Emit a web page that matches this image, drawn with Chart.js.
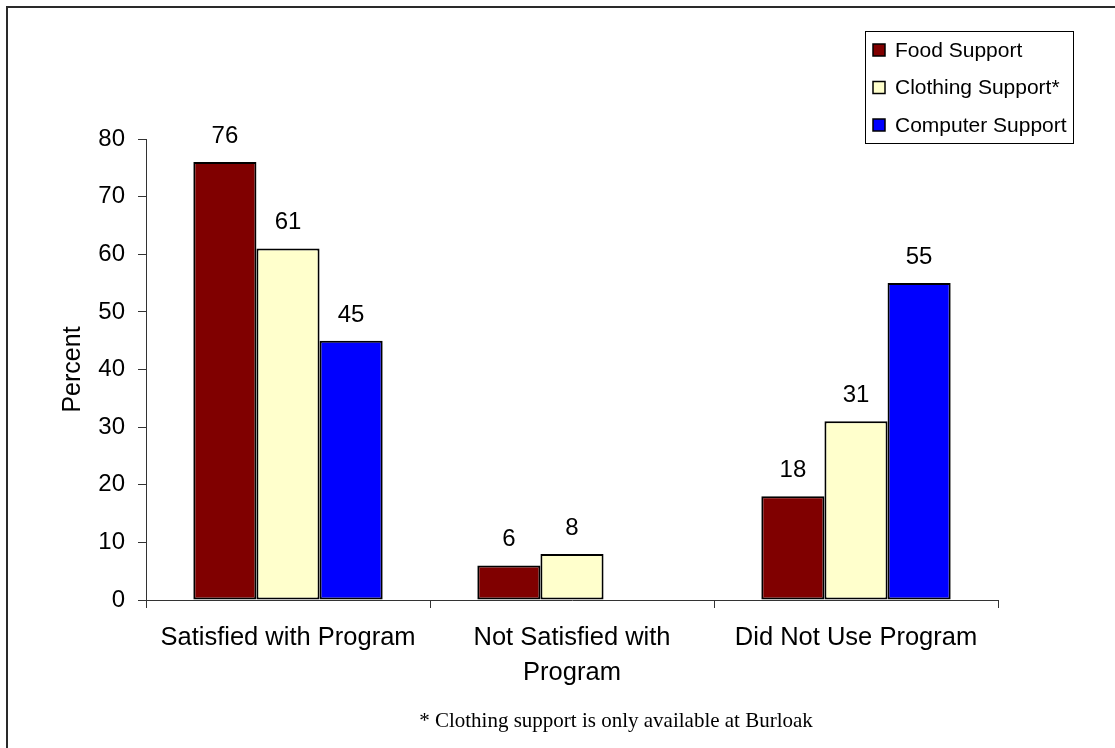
<!DOCTYPE html>
<html>
<head>
<meta charset="utf-8">
<title>Support program satisfaction</title>
<script src="https://cdn.jsdelivr.net/npm/chart.js@4"></script>
<style>
  html, body { margin: 0; padding: 0; background: #fff; }
  #wrap { position: relative; width: 1115px; height: 748px; }
  canvas { display: block; }
</style>
</head>
<body>
<div id="wrap"><canvas id="chart" width="1115" height="748"></canvas></div>
<script>
// Survey response categories (x axis)
const categories = [
  'Satisfied with Program',
  ['Not Satisfied with', 'Program'],
  'Did Not Use Program'
];

// Percent of respondents per program
const foodSupport = [76, 6, 18];
const clothingSupport = [61, 8, 31];
const computerSupport = [45, null, 55];

const seriesNames = ['Food Support', 'Clothing Support*', 'Computer Support'];
const yTicks = [0, 10, 20, 30, 40, 50, 60, 70, 80];
const footnote = '* Clothing support is only available at Burloak';

const SANS = '"Liberation Sans", Arial, sans-serif';
const SERIF = '"Liberation Serif", "Times New Roman", serif';

// Value labels above every bar
const valueLabels = {
  id: 'valueLabels',
  afterDatasetsDraw(chart) {
    const ctx = chart.ctx;
    ctx.save();
    ctx.font = '24px ' + SANS;
    ctx.fillStyle = '#000';
    ctx.textAlign = 'center';
    ctx.textBaseline = 'alphabetic';
    chart.data.datasets.forEach((ds, i) => {
      const meta = chart.getDatasetMeta(i);
      meta.data.forEach((bar, j) => {
        const v = ds.data[j];
        if (v === null || v === undefined) return;
        ctx.fillText(String(v), bar.x, bar.y - 19);
      });
    });
    ctx.restore();
  }
};

// Boxed legend, outer frame and footnote
const decorations = {
  id: 'decorations',
  afterDraw(chart) {
    const ctx = chart.ctx;
    ctx.save();

    // frame lines along the top and left edges
    ctx.strokeStyle = '#2a2a2a';
    ctx.lineWidth = 2;
    ctx.beginPath();
    ctx.moveTo(7, 748);
    ctx.lineTo(7, 7);
    ctx.lineTo(1115, 7);
    ctx.stroke();

    // legend box
    ctx.lineWidth = 1;
    ctx.strokeStyle = '#000';
    ctx.strokeRect(865.5, 31.5, 208, 112);
    ctx.font = '21px ' + SANS;
    ctx.textAlign = 'left';
    ctx.textBaseline = 'middle';
    chart.data.datasets.forEach((ds, i) => {
      const cy = 50 + i * 37.5;
      ctx.fillStyle = ds.backgroundColor;
      ctx.fillRect(873, cy - 6, 12, 12);
      ctx.strokeStyle = '#000';
      ctx.lineWidth = 1.5;
      ctx.strokeRect(873, cy - 6, 12, 12);
      ctx.fillStyle = '#000';
      ctx.fillText(ds.label, 895, cy + 1);
    });

    // footnote
    ctx.font = '21px ' + SERIF;
    ctx.textAlign = 'center';
    ctx.textBaseline = 'alphabetic';
    ctx.fillStyle = '#000';
    ctx.fillText(footnote, 616, 727);

    ctx.restore();
  }
};

const barStyle = { borderColor: '#000', borderWidth: 2, borderSkipped: false };

new Chart(document.getElementById('chart'), {
  type: 'bar',
  data: {
    labels: categories,
    datasets: [
      Object.assign({ label: seriesNames[0], data: foodSupport, backgroundColor: '#800000' }, barStyle),
      Object.assign({ label: seriesNames[1], data: clothingSupport, backgroundColor: '#FFFFCC' }, barStyle),
      Object.assign({ label: seriesNames[2], data: computerSupport, backgroundColor: '#0000FF' }, barStyle)
    ]
  },
  options: {
    responsive: false,
    animation: false,
    events: [],
    layout: { padding: { left: 58, top: 139, right: 117, bottom: 0 } },
    datasets: { bar: { categoryPercentage: 0.6667, barPercentage: 1.0 } },
    plugins: {
      legend: { display: false },
      tooltip: { enabled: false }
    },
    scales: {
      x: {
        offset: true,
        grid: {
          display: true,
          offset: true,
          drawOnChartArea: false,
          drawTicks: true,
          tickLength: 8,
          color: '#333'
        },
        border: { display: true, color: '#333', width: 1 },
        ticks: {
          color: '#000',
          font: { family: SANS, size: 25.5, lineHeight: 1.37 },
          padding: 13,
          maxRotation: 0,
          autoSkip: false
        },
        afterFit(scale) { scale.height = 148; }
      },
      y: {
        min: 0,
        max: 80,
        afterBuildTicks(scale) { scale.ticks = yTicks.map(v => ({ value: v })); },
        grid: {
          display: true,
          drawOnChartArea: false,
          drawTicks: true,
          tickLength: 8,
          color: '#333'
        },
        border: { display: true, color: '#333', width: 1 },
        ticks: {
          color: '#000',
          font: { family: SANS, size: 24 },
          padding: 13
        },
        title: {
          display: true,
          text: 'Percent',
          color: '#000',
          font: { family: SANS, size: 25 },
          padding: 0
        },
        afterFit(scale) { scale.width = 88; }
      }
    }
  },
  plugins: [valueLabels, decorations]
});
</script>
</body>
</html>
